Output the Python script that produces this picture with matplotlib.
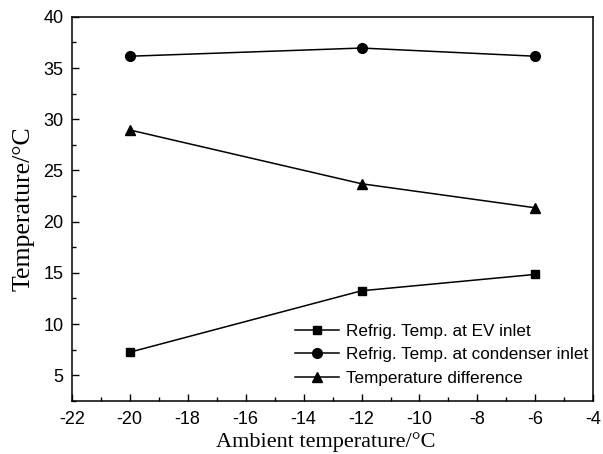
import matplotlib.pyplot as plt
from matplotlib.ticker import MultipleLocator

# Dados
ambiente = [-20, -12, -6]
temp_ev = [7.25, 13.25, 14.85]
temp_cond = [36.15, 36.95, 36.15]
diferenca = [28.95, 23.7, 21.35]

rotulos = ['Refrig. Temp. at EV inlet',
           'Refrig. Temp. at condenser inlet',
           'Temperature difference']

plt.rcParams['font.family'] = 'Liberation Sans'
plt.rcParams['axes.unicode_minus'] = False

fig = plt.figure(figsize=(6.03, 4.54), dpi=100)
ax = fig.add_axes([0.119, 0.117, 0.865, 0.846])

ax.plot(ambiente, temp_ev, 'k-', marker='s', markersize=6, linewidth=1.1, label=rotulos[0])
ax.plot(ambiente, temp_cond, 'k-', marker='o', markersize=7, linewidth=1.1, label=rotulos[1])
ax.plot(ambiente, diferenca, 'k-', marker='^', markersize=7.5, linewidth=1.1, label=rotulos[2])

ax.set_xlim(-22, -4)
ax.set_ylim(2.5, 40)
ax.xaxis.set_major_locator(MultipleLocator(2))
ax.xaxis.set_minor_locator(MultipleLocator(1))
ax.yaxis.set_major_locator(MultipleLocator(5))
ax.yaxis.set_minor_locator(MultipleLocator(2.5))
ax.tick_params(which='both', direction='in', top=False, right=False, labelsize=13)
ax.tick_params(which='major', length=5, width=1)
ax.tick_params(which='minor', length=3, width=1)
ax.tick_params(axis='x', pad=7)
ax.tick_params(axis='y', pad=6)
for s in ax.spines.values():
    s.set_linewidth(1.1)

ax.set_xlabel('Ambient temperature/°C', family='Liberation Serif', fontsize=16, labelpad=3)
ax.xaxis.label.set_x(0.487)
ax.set_ylabel('Temperature/°C', family='Liberation Serif', fontsize=18.5, labelpad=6)

ax.legend(loc='lower right', bbox_to_anchor=(1.023, -0.005), frameon=False,
          fontsize=12.3, handlelength=2.6, handletextpad=0.4, labelspacing=0.5,
          borderaxespad=0.6)

fig.savefig('out.png', dpi=100)
